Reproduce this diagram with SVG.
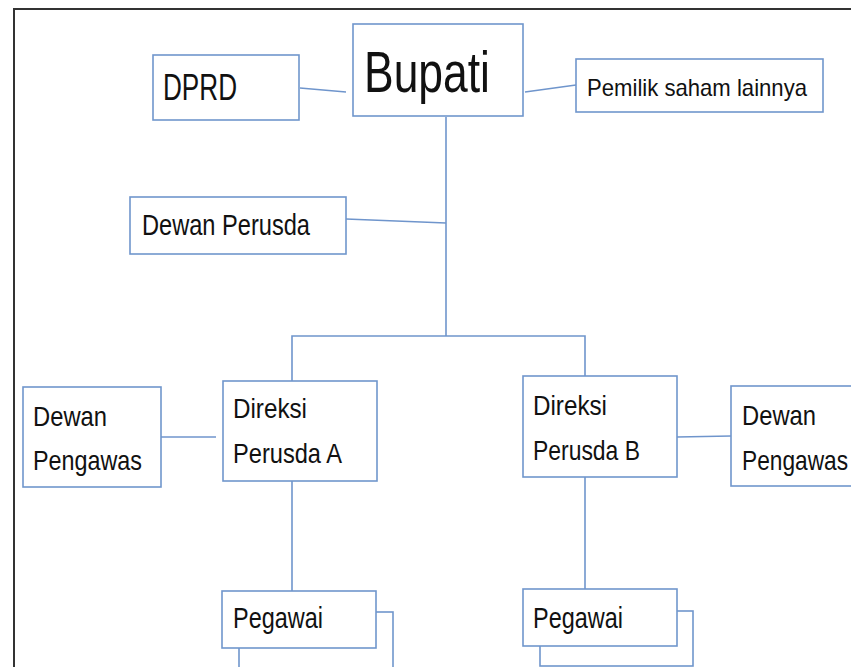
<svg xmlns="http://www.w3.org/2000/svg" width="851" height="667" viewBox="0 0 851 667">
<style>
.box{fill:#fff;stroke:#7096cc;stroke-width:1.6}
.ln{fill:none;stroke:#6f95cc;stroke-width:1.6}
text{font-family:"Liberation Sans",Arial,sans-serif;fill:#111}
</style>
<rect x="0" y="0" width="851" height="667" fill="#fff"/>
<rect x="14" y="9" width="900" height="700" fill="none" stroke="#333" stroke-width="2"/>
<g id="connectors">
<line class="ln" x1="300" y1="88" x2="346" y2="92"/>
<line class="ln" x1="525" y1="92" x2="576" y2="85"/>
<line class="ln" x1="446" y1="117" x2="446" y2="336"/>
<line class="ln" x1="346" y1="219" x2="446" y2="223"/>
<polyline class="ln" points="292,381 292,336 585,336 585,376"/>
<line class="ln" x1="161" y1="437" x2="216" y2="437"/>
<line class="ln" x1="677" y1="437" x2="731" y2="436"/>
<line class="ln" x1="292" y1="481" x2="292" y2="591"/>
<line class="ln" x1="585" y1="477" x2="585" y2="589"/>
</g>
<g id="dprd"><rect class="box" x="153" y="55" width="146" height="65"/><text x="163" y="100" font-size="36" textLength="74" lengthAdjust="spacingAndGlyphs">DPRD</text></g>
<g id="bupati"><rect class="box" x="353" y="24" width="170" height="92"/><text x="364" y="92" font-size="58" textLength="126" lengthAdjust="spacingAndGlyphs">Bupati</text></g>
<g id="pemilik"><rect class="box" x="576" y="59" width="247" height="53"/><text x="587" y="96" font-size="24" textLength="220" lengthAdjust="spacingAndGlyphs">Pemilik saham lainnya</text></g>
<g id="dewan-perusda"><rect class="box" x="130" y="197" width="216" height="57"/><text x="142" y="235" font-size="30" textLength="168" lengthAdjust="spacingAndGlyphs">Dewan Perusda</text></g>
<g id="dewan-pengawas-a"><rect class="box" x="23" y="387" width="138" height="100"/><text x="33" y="426" font-size="28" textLength="74" lengthAdjust="spacingAndGlyphs">Dewan</text><text x="33" y="470" font-size="28" textLength="109" lengthAdjust="spacingAndGlyphs">Pengawas</text></g>
<g id="direksi-a"><rect class="box" x="223" y="381" width="154" height="100"/><text x="233" y="418" font-size="28" textLength="74" lengthAdjust="spacingAndGlyphs">Direksi</text><text x="233" y="463" font-size="28" textLength="109" lengthAdjust="spacingAndGlyphs">Perusda A</text></g>
<g id="direksi-b"><rect class="box" x="523" y="376" width="154" height="101"/><text x="533" y="415" font-size="28" textLength="74" lengthAdjust="spacingAndGlyphs">Direksi</text><text x="533" y="460" font-size="28" textLength="107" lengthAdjust="spacingAndGlyphs">Perusda B</text></g>
<g id="dewan-pengawas-b"><rect class="box" x="731" y="386" width="140" height="100"/><text x="742" y="425" font-size="28" textLength="74" lengthAdjust="spacingAndGlyphs">Dewan</text><text x="742" y="470" font-size="28" textLength="106" lengthAdjust="spacingAndGlyphs">Pengawas</text></g>
<g id="pegawai-a"><rect class="box" x="239" y="612" width="154" height="70"/><rect class="box" x="222" y="591" width="154" height="57"/><text x="233" y="628" font-size="29" textLength="90" lengthAdjust="spacingAndGlyphs">Pegawai</text></g>
<g id="pegawai-b"><rect class="box" x="540" y="611" width="153" height="55"/><rect class="box" x="523" y="589" width="154" height="57"/><text x="533" y="628" font-size="29" textLength="90" lengthAdjust="spacingAndGlyphs">Pegawai</text></g>
</svg>
